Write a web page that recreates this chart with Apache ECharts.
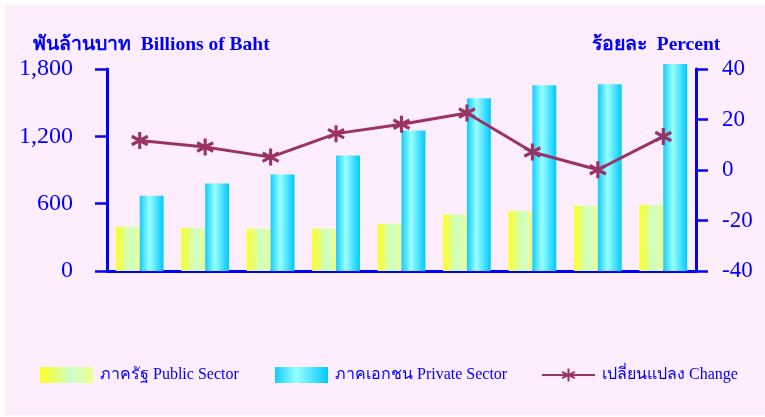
<!DOCTYPE html>
<html>
<head>
<meta charset="utf-8">
<script src="https://cdn.jsdelivr.net/npm/echarts@6/dist/echarts.min.js"></script>
<style>
html,body{margin:0;padding:0;background:#fff;}
#chart{width:765px;height:417px;}
</style>
</head>
<body>
<div id="chart"></div>
<script>
const categories = ['1','2','3','4','5','6','7','8','9'];
const publicSector = [394, 385, 376, 376, 421, 504, 537, 582, 591];
const privateSector = [671, 779, 859, 1029, 1253, 1540, 1656, 1665, 1844];
const change = [11.7, 9.1, 5.1, 14.4, 18.1, 22.6, 7.1, 0.1, 13.3];
const leftTicks = [0, 600, 1200, 1800];
const rightTicks = [-40, -20, 0, 20, 40];
const names = ['ภาครัฐ Public Sector', 'ภาคเอกชน Private Sector', 'เปลี่ยนแปลง Change'];

const BLUE = '#0000FF';
const FONT = '"Liberation Serif", "Times New Roman", serif';
const chart = echarts.init(document.getElementById('chart'));

const pubGrad = new echarts.graphic.LinearGradient(0,0,1,0,[
  {offset:0,color:'#FFFF22'},{offset:0.6,color:'#CCFFCC'},{offset:1,color:'#EEFF88'}]);
const privGrad = new echarts.graphic.LinearGradient(0,0,1,0,[
  {offset:0,color:'#11CCFF'},{offset:0.4,color:'#99FFFF'},{offset:1,color:'#00C8FF'}]);

const legendBase = {
  orient:'horizontal', itemWidth:53, itemHeight:16, itemGap:0, padding:0,
  textStyle:{color:BLUE, fontFamily:FONT, fontSize:16, padding:[0,0,0,2]}, selectedMode:false
};

chart.setOption({
  backgroundColor:'#ffffff',
  animation:false,
  graphic:[
    {type:'rect', left:5, top:5, shape:{width:760, height:410}, style:{fill:'#FDEDFD'}, z:-10},
    {type:'text', left:33, top:35, style:{text:'พันล้านบาท  Billions of Baht', fill:BLUE, font:'bold 19.5px '+FONT}},
    {type:'text', left:592, top:35, style:{text:'ร้อยละ  Percent', fill:BLUE, font:'bold 19.5px '+FONT}}
  ],
  grid:{left:107, right:69, top:69, bottom:146},
  legend:[
    Object.assign({left:40, top:367, data:[{name:names[0], icon:'rect'}]}, legendBase),
    Object.assign({left:275, top:367, data:[{name:names[1], icon:'rect'}]}, legendBase),
    Object.assign({left:541, top:367, data:[names[2]]}, legendBase)
  ],
  xAxis:{
    type:'category', data:categories,
    axisLine:{lineStyle:{color:BLUE, width:3}},
    axisTick:{show:false}, axisLabel:{show:false}, splitLine:{show:false}
  },
  yAxis:[
    {type:'value', min:leftTicks[0], max:leftTicks[leftTicks.length-1], interval:600, position:'left',
     axisLine:{show:true, lineStyle:{color:BLUE, width:3}},
     axisTick:{show:true, length:12, lineStyle:{color:BLUE, width:2.5}},
     splitLine:{show:false},
     axisLabel:{color:BLUE, fontFamily:FONT, fontSize:24, margin:34,
       formatter:v=>v.toLocaleString('en-US')}},
    {type:'value', min:rightTicks[0], max:rightTicks[rightTicks.length-1], interval:20, position:'right',
     axisLine:{show:true, lineStyle:{color:BLUE, width:3}},
     axisTick:{show:true, length:12, lineStyle:{color:BLUE, width:2.5}},
     splitLine:{show:false},
     axisLabel:{color:BLUE, fontFamily:FONT, fontSize:23, margin:26}}
  ],
  series:[
    {name:names[0], type:'bar', data:publicSector, yAxisIndex:0, barGap:'0%', barCategoryGap:'27%',
     clip:false, itemStyle:{color:pubGrad}},
    {name:names[1], type:'bar', data:privateSector, yAxisIndex:0, barGap:'0%', barCategoryGap:'27%',
     clip:false, itemStyle:{color:privGrad}},
    {name:names[2], type:'line', data:change, yAxisIndex:1,
     symbol:'path://M10,0L10,20M1.34,5L18.66,15M1.34,15L18.66,5', symbolSize:[16,17],
     lineStyle:{color:'#993366', width:3},
     itemStyle:{color:'#993366', borderColor:'#993366', borderWidth:3.2}, z:5}
  ]
});
</script>
</body>
</html>
